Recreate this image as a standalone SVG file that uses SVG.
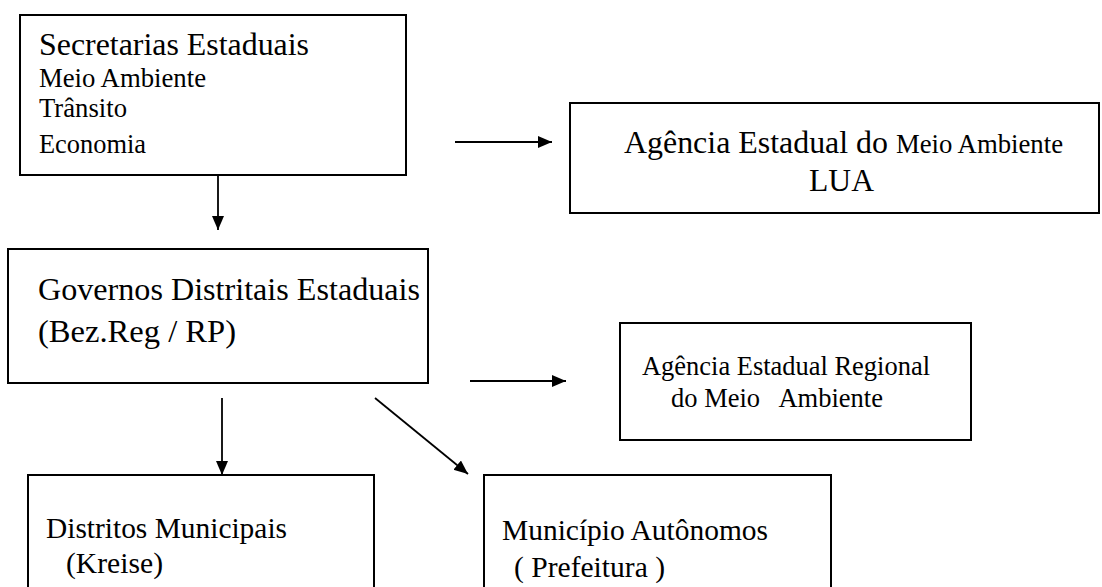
<svg xmlns="http://www.w3.org/2000/svg" width="1102" height="587" viewBox="0 0 1102 587">
<defs>
<marker id="ah" markerUnits="userSpaceOnUse" markerWidth="16" markerHeight="14" refX="14" refY="6" orient="auto">
<path d="M0,0 L14,6 L0,12 Z" fill="#000"/>
</marker>
<style>
.box{fill:#fff;stroke:#000;stroke-width:2}
.con{stroke:#000;stroke-width:1.8;fill:none;marker-end:url(#ah)}
text{fill:#000;white-space:pre;font-family:"Liberation Serif","Times New Roman",Times,serif}
.L{font-size:32px}
.S{font-size:26.5px}
.M{font-size:29px}
</style>
</defs>
<rect width="1102" height="587" fill="#fff"/>
<g id="connectors">
<line class="con" x1="455" y1="142" x2="552" y2="142"/>
<line class="con" x1="218" y1="175" x2="218" y2="230"/>
<line class="con" x1="470" y1="381" x2="566" y2="381"/>
<line class="con" x1="222" y1="398" x2="222" y2="475"/>
<line class="con" x1="375" y1="398" x2="468" y2="474"/>
</g>
<g id="secretarias">
<rect class="box" x="20" y="15" width="386" height="160"/>
<text class="L" x="39" y="55" textLength="270" lengthAdjust="spacingAndGlyphs">Secretarias Estaduais</text>
<text class="S" x="39" y="87" textLength="167" lengthAdjust="spacingAndGlyphs">Meio Ambiente</text>
<text class="S" x="39" y="117" textLength="88" lengthAdjust="spacingAndGlyphs">Trânsito</text>
<text class="S" x="39" y="153" textLength="107" lengthAdjust="spacingAndGlyphs">Economia</text>
</g>
<g id="lua">
<rect class="box" x="570" y="103" width="529" height="110"/>
<text class="L" x="624" y="153" textLength="264" lengthAdjust="spacingAndGlyphs">Agência Estadual do</text>
<text class="S" x="896" y="153" textLength="167" lengthAdjust="spacingAndGlyphs">Meio Ambiente</text>
<text class="L" x="809" y="191" textLength="65" lengthAdjust="spacingAndGlyphs">LUA</text>
</g>
<g id="governos">
<rect class="box" x="8" y="249" width="420" height="134"/>
<text class="L" x="38" y="300" textLength="382" lengthAdjust="spacingAndGlyphs">Governos Distritais Estaduais</text>
<text class="L" x="38" y="342" textLength="198" lengthAdjust="spacingAndGlyphs">(Bez.Reg / RP)</text>
</g>
<g id="regional">
<rect class="box" x="620" y="323" width="351" height="117"/>
<text class="S" x="642" y="375" textLength="288" lengthAdjust="spacingAndGlyphs">Agência Estadual Regional</text>
<text class="S" x="671" y="407" textLength="212" lengthAdjust="spacingAndGlyphs">do Meio   Ambiente</text>
</g>
<g id="distritos">
<rect class="box" x="28" y="475" width="346" height="130"/>
<text class="M" x="46" y="538" textLength="241" lengthAdjust="spacingAndGlyphs">Distritos Municipais</text>
<text class="M" x="66" y="573" textLength="97" lengthAdjust="spacingAndGlyphs">(Kreise)</text>
</g>
<g id="municipio">
<rect class="box" x="484" y="475" width="347" height="130"/>
<text class="M" x="502" y="540" textLength="266" lengthAdjust="spacingAndGlyphs">Município Autônomos</text>
<text class="M" x="514" y="577" textLength="151" lengthAdjust="spacingAndGlyphs">( Prefeitura )</text>
</g>
</svg>
